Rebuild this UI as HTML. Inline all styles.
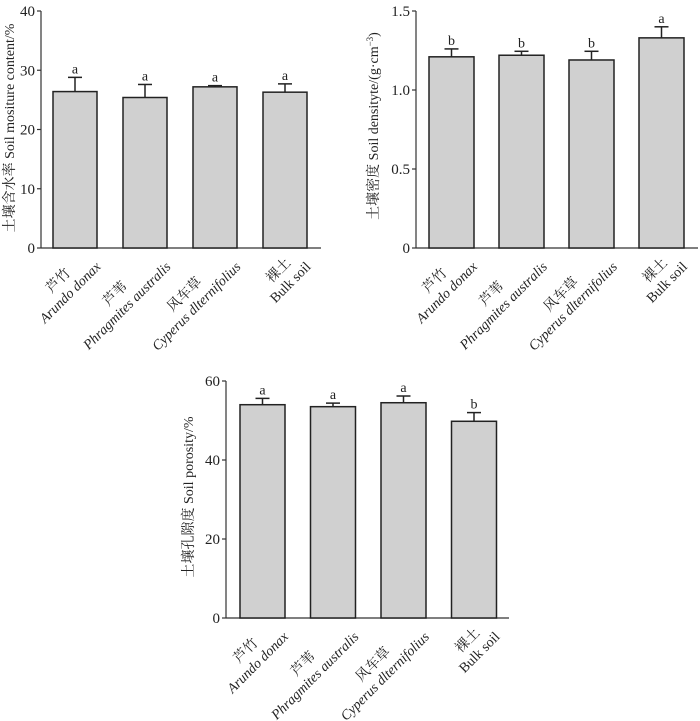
<!DOCTYPE html>
<html><head><meta charset="utf-8">
<style>
body{margin:0;background:#fff;}
svg{display:block;font-family:"Liberation Serif","Noto Serif CJK SC","Noto Sans CJK SC",serif;}
</style></head>
<body>
<svg id="fig" width="700" height="721" viewBox="0 0 700 721"></svg>
<script>
const categoriesCn = ["芦竹","芦苇","风车草","裸土"];
const categoriesEn = ["Arundo donax","Phragmites australis","Cyperus dlternifolius","Bulk soil"];
const moistureValues = [26.4, 25.4, 27.2, 26.3];
const moistureErrors = [2.4, 2.2, 0.2, 1.4];
const moistureLetters = ["a","a","a","a"];
const moistureTicks = ["0","10","20","30","40"];
const densityValues = [1.21, 1.22, 1.19, 1.33];
const densityErrors = [0.05, 0.025, 0.055, 0.07];
const densityLetters = ["b","b","b","a"];
const densityTicks = ["0","0.5","1.0","1.5"];
const porosityValues = [54.0, 53.5, 54.5, 49.8];
const porosityErrors = [1.6, 0.9, 1.7, 2.2];
const porosityLetters = ["a","a","a","b"];
const porosityTicks = ["0","20","40","60"];

const NS = "http://www.w3.org/2000/svg";
const svg = document.getElementById("fig");
function mk(tag, attrs, parent){
  const e = document.createElementNS(NS, tag);
  for (const k in attrs) e.setAttribute(k, attrs[k]);
  parent.appendChild(e);
  return e;
}

function drawChart(cfg){
  const g = mk("g", {}, svg);
  
  
  const ticks = cfg.ticks.map(Number);
  const yMax = ticks[ticks.length-1];
  const y = v => cfg.y0 - (v / yMax) * (cfg.y0 - cfg.yTop);
  const bw = cfg.barW, step = cfg.step;
  const cx = i => cfg.firstCenter + i * step;
  const ya = mk("line", {x1:cfg.x0, y1:cfg.yTop, x2:cfg.x0, y2:cfg.y0, stroke:"#333", "stroke-width":1.2}, g);
  
  
  const xa = mk("line", {x1:cfg.x0, y1:cfg.y0, x2:cfg.xEnd, y2:cfg.y0, stroke:"#333", "stroke-width":1.2}, g);
  
  
  cfg.ticks.forEach((t) => {
    const yy = y(Number(t));
    const tk = mk("line", {x1:cfg.x0-4, y1:yy, x2:cfg.x0, y2:yy, stroke:"#333", "stroke-width":1.2}, g);
    
    
    const tl = mk("text", {x:cfg.x0-6, y:yy+5, "text-anchor":"end", "font-size":15, fill:"#222"}, g);
    tl.textContent = t;
    
    
  });
  const tt = mk("text", {x:0, y:0, "text-anchor":"middle", "font-size":14, fill:"#222",
    transform:`translate(${cfg.titleX},${cfg.titleY}) rotate(-90)`}, g);
  tt.textContent = cfg.title;
  if (cfg.sup){ const s = mk("tspan", {"baseline-shift":"super","font-size":9}, tt); s.textContent = cfg.sup;
    const s2 = mk("tspan", {}, tt); s2.textContent = ")"; }
  
  
  cfg.values.forEach((v, i) => {
    const c = cx(i);
    const r = mk("rect", {x:c-bw/2, y:y(v), width:bw, height:cfg.y0 - y(v), fill:"#d0d0d0", stroke:"#222", "stroke-width":1.5}, g);
    
    
    const top = y(v + cfg.errors[i]);
    const el = mk("line", {x1:c, y1:y(v), x2:c, y2:top, stroke:"#222", "stroke-width":1.5}, g);
    
    
    const cap = mk("line", {x1:c-7, y1:top, x2:c+7, y2:top, stroke:"#222", "stroke-width":1.5}, g);
    
    
    const lt = mk("text", {x:c, y:top-4, "text-anchor":"middle", "font-size":14, fill:"#222"}, g);
    lt.textContent = cfg.letters[i];
    
    
    const lg = mk("g", {transform:`translate(${c+6},${cfg.y0-1}) rotate(-45)`}, g);
    
    
    const l1 = mk("text", {x:0, y:12, "text-anchor":"middle", "font-size":14, fill:"#222"}, lg);
    l1.textContent = categoriesCn[i];
    const l2 = mk("text", {x:0, y:29, "text-anchor":"middle", "font-size":14, "font-style":"italic", fill:"#222"}, lg);
    l2.textContent = categoriesEn[i];
    if (i === 3) l2.setAttribute("font-style","normal");
    const w = Math.max(l1.getComputedTextLength(), l2.getComputedTextLength());
    l1.setAttribute("x", -w/2); l2.setAttribute("x", -w/2);
  });
}

drawChart({name:"moisture-chart", x0:41, xEnd:321, y0:248, yTop:11, firstCenter:75, step:70, barW:44,
  ticks:moistureTicks, values:moistureValues, errors:moistureErrors, letters:moistureLetters,
  title:"土壤含水率 Soil mositure content/%", titleX:14, titleY:128});
drawChart({name:"density-chart", x0:416, xEnd:698, y0:248, yTop:11, firstCenter:451.5, step:70, barW:45,
  ticks:densityTicks, values:densityValues, errors:densityErrors, letters:densityLetters,
  title:"土壤密度 Soil densityte/(g·cm", sup:"−3", titleX:378, titleY:126});
drawChart({name:"porosity-chart", x0:226, xEnd:509, y0:618, yTop:381, firstCenter:262.5, step:70.5, barW:45,
  ticks:porosityTicks, values:porosityValues, errors:porosityErrors, letters:porosityLetters,
  title:"土壤孔隙度 Soil porosity/%", titleX:193, titleY:497});
</script>
</body></html>
